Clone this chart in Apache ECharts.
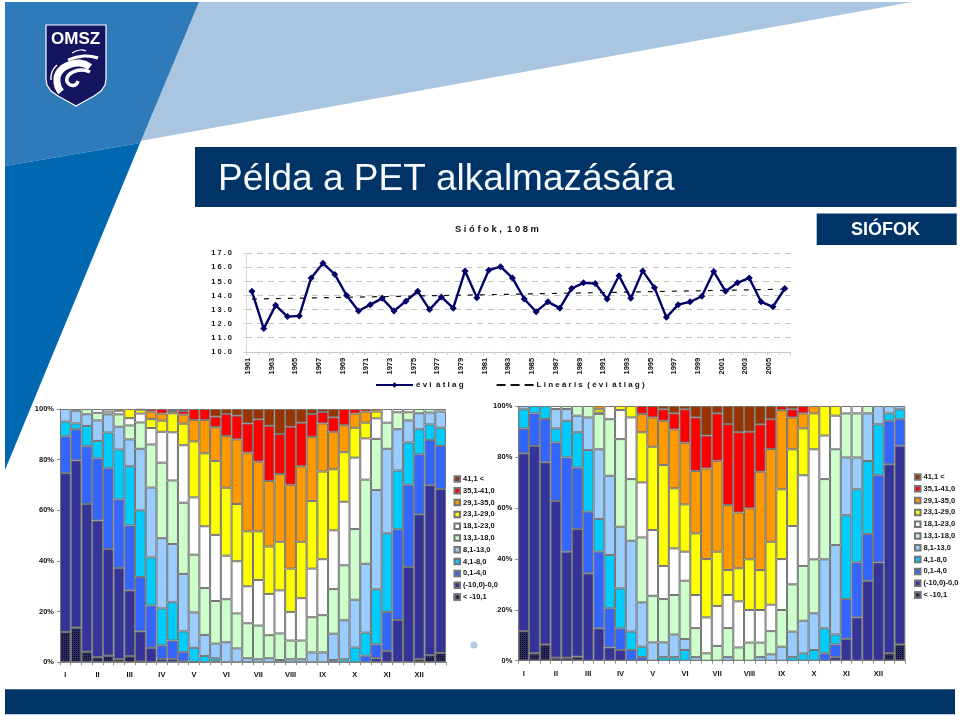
<!DOCTYPE html>
<html>
<head>
<meta charset="utf-8">
<style>html,body{margin:0;padding:0;background:#fff}#c{width:960px;height:716px}</style>
<script src="https://cdn.jsdelivr.net/npm/echarts@6/dist/echarts.min.js"></script>
</head>
<body>
<div id="c"></div>
<script>
const years = [1961,1962,1963,1964,1965,1966,1967,1968,1969,1970,1971,1972,1973,1974,1975,1976,1977,1978,1979,1980,1981,1982,1983,1984,1985,1986,1987,1988,1989,1990,1991,1992,1993,1994,1995,1996,1997,1998,1999,2000,2001,2002,2003,2004,2005,2006];
const annualMean = [14.3,11.65,13.3,12.5,12.55,15.25,16.3,15.5,14.0,12.9,13.35,13.8,12.9,13.6,14.3,13.0,13.9,13.1,15.75,13.85,15.8,16.05,15.25,13.75,12.85,13.55,13.1,14.5,14.9,14.85,13.75,15.4,13.8,15.75,14.55,12.45,13.35,13.55,13.95,15.7,14.3,14.9,15.25,13.55,13.2,14.5];
const trendEnds = [[0,13.75],[45,14.45]];
const lineTicks = {10:'1 0 . 0',11:'1 1 . 0',12:'1 2 . 0',13:'1 3 . 0',14:'1 4 . 0',15:'1 5 . 0',16:'1 6 . 0',17:'1 7 . 0'};
const months = ['I','II','III','IV','V','VI','VII','VIII','IX','X','XI','XII'];
const classes = ['< -10,1','(-10,0)-0,0','0,1-4,0','4,1-8,0','8,1-13,0','13,1-18,0','18,1-23,0','23,1-29,0','29,1-35,0','35,1-41,0','41,1 <'];
const classColors = ['#2a2a66','#333399','#3366ff','#00ccff','#99ccff','#ccffcc','#ffffff','#ffff00','#ff9900','#ff0000','#993300'];
// each row: one ten-day bar, cumulative % at the top of each class, bottom to top (missing = 100)
const leftTops = [
[12,74.7,89.2,95,100],[13.7,79.7,92,94.3,99.3],[4.2,62.5,85.3,93.3,97.9],
[2,56,80.5,87.4,95.5,98.5],[2.6,44.7,76.6,90.7,97.9,99],[1.2,37.2,64.3,84,93,97.9,99.3],
[2.4,28.4,54,77.4,88,93.5,96.4],[0.3,12.2,33.7,60,84.3,94.7,98.2,99.7],[0,5.7,22.4,41.4,69,86,92.5,96,99],
[0,1.3,6.7,21.3,49,78.8,91,95.4,98.2],[0,1.3,8.6,23.7,46.7,71.8,90.8,98.3,99.2],[0,0.3,4,12.2,34.9,63,85.7,94.2,97.8,99.2],
[0,0,0.1,5.7,19.7,42.5,65.1,87.2,95.7],[0,0,0,2.5,10.8,29.3,53.7,82.5,95.7],[0,0,0.4,1.6,7.4,24.2,50.3,79.5,92.8,97],
[0,0,0,0,7.9,24.9,42.1,68.9,89.3,98],[0,0,0,0,5.5,19.3,39.9,62.5,88,97.4],[0,0,0,0,1.6,15.4,30,51.7,82.8,94.3],
[0,0,0,0,1.2,14.5,32.5,51.7,79.2,95.9],[0,0,0,0,1.6,10.7,27,45.7,71.6,93.4],[0,0,0,0,0.9,11.4,28.4,47.6,74.3,90.1],
[0,0,0,0,1.2,8.6,19.9,37,70.1,93],[0,0,0,0,1.2,8.6,25.3,47.6,77.4,94.6],[0,0,0,0,3.9,17.8,37,63.7,89,98],
[0,0,0,0,3.9,18.6,40.7,75.3,94.3,98.8],[0,0,0,0.9,11.3,28.9,52.1,76.2,91,96.7],[0,0,0,1.2,16.6,38.3,63.4,82.9,93.6],
[0,0,0,5.8,24.7,52.6,80.8,92.6,98.2],[0,0,2.6,11.7,38.9,72.1,88.4,94.6,99],[0,1.6,7.1,28.8,68,88.2,96.3,99],
[0,4.5,19.9,50.9,84.3,94.6],[0,16.7,52.5,75.7,92,98.7],[0,37.6,70.1,86.8,95.5,98.7],
[1.2,58.4,82.1,92,98.3],[2.8,69.9,87.8,93.9,98.6],[3.7,68.4,85.4,92.6,99]
];
const rightTops = [
[11.6,81.4,91.2,98.7],[2.9,84.3,97.1],[6.4,77.9,94.9],
[1.2,62.7,85.7,91.2,98.8,98.8],[1.2,42.8,79.8,94.2,98.8],[1.6,51.7,75.8,89.7,96.2],
[0,34.3,58.5,82.7,95.5],[0,12.7,42.8,55.6,83,96.9,97.4,98.7],[0,5.2,20.6,41.5,72.6,94.8],
[0,4.2,12.7,28.4,52.6,87,98.4],[0,0,4.2,11.4,47.1,71.3,95.5],[0,0,1.4,5.5,22.9,48.4,70,89.7,96.9],
[0,0,0,0,7.2,25.5,51.3,84,95.5],[0,0,0,1.4,7.2,24.2,37.2,76.8,94.2,98.7],[0,0,0,1.4,10.3,25.8,44.1,67.7,90.8,97.1],
[0,0,0,4.2,8.5,31.4,42.8,61.4,85.6,98.7],[0,0,0,0,1.4,12.8,25.8,50,74.5,95.5],[0,0,0,0,0,2.9,17,39.9,75.5,88.4],
[0,0,0,0,0,5.8,21.5,42.8,78.5,97.1],[0,0,0,0,1.4,12.8,25.8,35.6,61.1,92.9],[0,0,0,0,0,5.2,23.3,36.3,58.2,89.7],
[0,0,0,0,0,7.1,19.9,39.8,59.8,89.9],[0,0,0,0,1.4,7.1,19.9,35.6,74.2,92.8],[0,0,0,0,2.5,11.6,22,46.7,83.1,94.8],
[0,0,0,0,5.5,19.9,39.9,67.3,98.4],[0,0,0,1.4,11.4,30,52.9,83,95.5,98.7],[0,0,0,2.9,15.7,37.2,72.8,91.2,97.1],
[0,0,0,4.2,18.6,39.8,83,97.1],[0,0,2.9,12.7,39.8,71.3,88.4],[0,1.4,6.4,10.3,45.4,83,96.2],
[0,8.6,24.2,57.1,79.8,97.1],[0,17,38.6,67.3,79.8,97.1],[0,31.4,49.7,78.4,97.1],
[0,38.6,72.8,92.8],[2.9,77.1,94.2,97.1],[6.4,84.4,94.8,98.7]
];
const title = 'Példa a PET alkalmazására', subtitle = 'S i ó f o k ,  1 0 8 m', station = 'SIÓFOK';
const lineName = 'é v i  á t l a g', trendName = 'L i n e á r i s  ( é v i  á t l a g )';

const sans = "'Liberation Sans',Arial,sans-serif";
const smallSize = 7.5;
const barCats = Array.from({length:36},(_,i)=> i%3===0 ? months[i/3] : ' ');

function segs(rows, c){
  return rows.map(r=>{
    const top = r[c]===undefined?100:r[c];
    const prev = c===0?0:(r[c-1]===undefined?100:r[c-1]);
    const v = Math.round((top-prev)*10)/10;
    return v>0?v:null;
  });
}
function stack(rows, g, key){
  return classes.map((name,c)=>{
    const itemStyle = {color:classColors[c],borderColor:'#747474',borderWidth:1};
    if(c===0) itemStyle.decal = {symbol:'rect',symbolSize:1,dashArrayX:[1,1],dashArrayY:[1,1],rotation:0,color:'rgba(0,0,0,0.75)'};
    return {name, type:'bar', stack:key, xAxisIndex:g, yAxisIndex:g, barWidth:'100%', barGap:0,
      data:segs(rows,c), animation:false, itemStyle};
  });
}
function xBar(g){return {type:'category',gridIndex:g,data:barCats,
  axisLine:{lineStyle:{color:'#8c8c8c'}},axisTick:{show:true,interval:0,length:3,lineStyle:{color:'#8c8c8c'}},
  axisLabel:{interval:0,color:'#111',fontFamily:sans,fontWeight:'bold',fontSize:smallSize,margin:9,hideOverlap:false}};}
function yBar(g){return {type:'value',gridIndex:g,min:0,max:100,interval:20,
  axisLine:{show:true,lineStyle:{color:'#8c8c8c'}},axisTick:{show:true,length:3,lineStyle:{color:'#8c8c8c'}},splitLine:{show:false},
  axisLabel:{formatter:'{value}%',color:'#111',fontFamily:sans,fontWeight:'bold',fontSize:smallSize,margin:6}};}
function legBar(left,top){return {left,top,orient:'vertical',itemWidth:5.5,itemHeight:5.5,itemGap:3.8,icon:'rect',selectedMode:false,
  data:classes.slice().reverse(),textStyle:{color:'#111',fontFamily:sans,fontWeight:'bold',fontSize:smallSize,padding:[0,0,0,-2]}};}

const option = {
  backgroundColor:'#ffffff',
  animation:false,
  title:[
    {text:title,left:213,top:156,textStyle:{color:'#f4f7fb',fontFamily:sans,fontWeight:'normal',fontSize:37}},
    {text:subtitle,left:450,top:220,textStyle:{color:'#111',fontFamily:sans,fontWeight:'bold',fontSize:9.4}},
    {text:station,left:846,top:216,textStyle:{color:'#fff',fontFamily:sans,fontWeight:'bold',fontSize:18}}
  ],
  graphic:{elements:[
    {type:'polygon',z:-10,silent:true,shape:{points:[[199,2],[912,2],[140,141]]},style:{fill:'#aac5e0'}},
    {type:'polygon',z:-9,silent:true,shape:{points:[[5,2],[199,2],[140,143],[5,166]]},style:{fill:'#2f7ab8'}},
    {type:'polygon',z:-9,silent:true,shape:{points:[[5,166],[140,143],[5,470]]},style:{fill:'#0068b0'}},
    {type:'rect',z:-9,silent:true,shape:{x:195,y:147,width:761.5,height:60},style:{fill:'#003366'}},
    {type:'rect',z:-9,silent:true,shape:{x:816.7,y:213.5,width:140,height:31.5},style:{fill:'#003366'}},
    {type:'rect',z:-9,silent:true,shape:{x:5,y:689.3,width:950,height:25},style:{fill:'#003366'}},
    {type:'circle',z:-9,silent:true,shape:{cx:474,cy:645,r:3.6},style:{fill:'#b3cae5'}},
    {type:'polygon',z:-8,silent:true,shape:{points:[[46,25],[106,25],[106,79],[105,85],[101,91],[94,96],[85,101],[76,106],[67,101],[58,96],[51,91],[47,85],[46,79]]},style:{fill:'#14145f',stroke:'#ffffff',lineWidth:1.2}},
    {type:'text',z:-7,silent:true,style:{text:'OMSZ',x:51,y:31,fill:'#fff',fontFamily:sans,fontWeight:'bold',fontSize:17}},
    {type:'polyline',z:-7,silent:true,shape:{points:[[61,92],[57,82],[60,71],[69,65],[80,63],[90,67]],smooth:0.5},style:{fill:'none',stroke:'#fff',lineWidth:7}},
    {type:'polyline',z:-7,silent:true,shape:{points:[[90,72],[82,70],[73,72],[67,78],[69,84],[75,85],[78,81]],smooth:0.5},style:{fill:'none',stroke:'#fff',lineWidth:3.5}},
    {type:'polyline',z:-7,silent:true,shape:{points:[[68,60],[84,56],[98,58]],smooth:0.5},style:{fill:'none',stroke:'#fff',lineWidth:3}},
    {type:'polyline',z:-7,silent:true,shape:{points:[[51,80],[52,72],[57,65]],smooth:0.5},style:{fill:'none',stroke:'#fff',lineWidth:1.4}},
    {type:'polyline',z:-7,silent:true,shape:{points:[[72,53],[80,50],[86,51]],smooth:0.5},style:{fill:'none',stroke:'#fff',lineWidth:1.2}}
  ]},
  grid:[
    {left:246,top:253.3,width:544.7,height:98.5},
    {left:60,top:409,width:386,height:253.3},
    {left:518.3,top:406,width:387,height:254.7}
  ],
  legend:[
    {left:370,top:376,itemWidth:37,itemHeight:7,itemGap:32,selectedMode:false,
     data:[{name:lineName},{name:trendName,itemStyle:{opacity:0},lineStyle:{type:[9,5]}}],
     textStyle:{color:'#111',fontFamily:sans,fontWeight:'bold',fontSize:8,padding:[0,0,0,-2]}},
    legBar(448.5,470),
    legBar(909,468)
  ],
  xAxis:[
    {type:'category',gridIndex:0,data:years,
     axisLine:{lineStyle:{color:'#c8c8c8'}},axisTick:{show:true,interval:0,length:3,lineStyle:{color:'#c8c8c8'}},
     axisLabel:{interval:1,rotate:90,verticalAlign:'bottom',color:'#111',fontFamily:sans,fontWeight:'bold',fontSize:smallSize,margin:6}},
    xBar(1),xBar(2)
  ],
  yAxis:[
    {type:'value',gridIndex:0,min:10,max:17,interval:1,
     axisLine:{show:true,lineStyle:{color:'#d8d8d8'}},axisTick:{show:true,length:3,lineStyle:{color:'#d8d8d8'}},
     splitLine:{show:true,lineStyle:{type:[6,5],color:'#c4c4c4',width:1}},
     axisLabel:{formatter:v=>lineTicks[v],color:'#111',fontFamily:sans,fontWeight:'bold',fontSize:smallSize,margin:14}},
    yBar(1),yBar(2)
  ],
  series:[
    {name:lineName,type:'line',xAxisIndex:0,yAxisIndex:0,data:annualMean,symbol:'diamond',symbolSize:7,showSymbol:true,
     lineStyle:{color:'#000066',width:2.4},itemStyle:{color:'#000066'},animation:false,z:5},
    {name:trendName,type:'line',xAxisIndex:0,yAxisIndex:0,data:trendEnds,symbol:'none',
     lineStyle:{color:'#111',width:1.2,type:[5,7]},itemStyle:{color:'#111'},animation:false,z:4},
    ...stack(leftTops,1,'left'),
    ...stack(rightTops,2,'right')
  ]
};
const chart = echarts.init(document.getElementById('c'),null,{renderer:'canvas',width:960,height:716});
chart.setOption(option);
</script>
</body>
</html>
